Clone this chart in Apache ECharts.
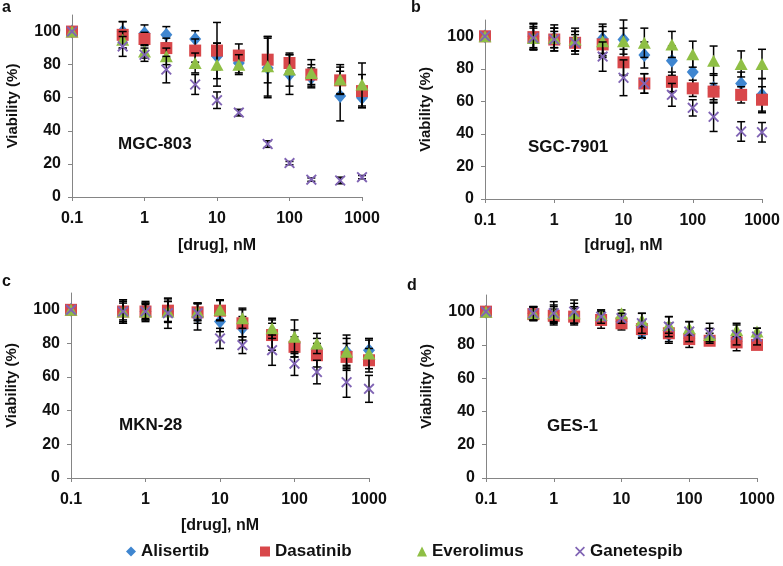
<!DOCTYPE html>
<html>
<head>
<meta charset="utf-8">
<script src="https://cdn.jsdelivr.net/npm/echarts@6/dist/echarts.min.js"></script>
<style>html,body{margin:0;padding:0;background:#fff}#c{width:783px;height:566px}</style>
</head>
<body>
<div id="c"></div>
<script>
// ---- data ----
const doses = [0.1, 0.5, 1, 2, 5, 10, 20, 50, 100, 200, 500, 1000];
const drugs = ['Alisertib', 'Dasatinib', 'Everolimus', 'Ganetespib'];
const cellLines = ['MGC-803', 'SGC-7901', 'MKN-28', 'GES-1'];
const panelLetters = ['a', 'b', 'c', 'd'];
const yTicks = [0, 20, 40, 60, 80, 100];
const xTickLabels = ['0.1', '1', '10', '100', '1000'];

// MGC-803
const mgcAlisertib   = [100, 100, 99, 98, 95.5, 85, 81, 78, 74, 72, 61, 60];
const mgcDasatinib   = [100, 98, 95.5, 90, 88.5, 88.5, 85.5, 83, 81, 74, 70.5, 64];
const mgcEverolimus  = [100, 95, 88, 85, 81, 80, 80, 79, 77, 75, 71, 68];
const mgcGanetespib  = [100, 91, 86, 77, 68, 58.5, 51, 32, 20.5, 10.5, 10, 12];
const mgcAlisertibErr  = [0, 6, 5, 5, 5, 8, 6, 18, 12, 6, 15, 6];
const mgcDasatinibErr  = [0, 8, 4, 6, 7, 17, 7, 14, 5, 6, 8, 10];
const mgcEverolimusErr = [0, 5, 4, 5, 6, 13, 6, 18, 10, 8, 9, 13];
const mgcGanetespibErr = [0, 6, 4, 8, 6, 5, 2, 2, 1, 1, 2, 1];

// SGC-7901
const sgcAlisertib   = [100, 100, 99, 97, 98.5, 98, 88.5, 85, 78, 68, 71, 64];
const sgcDasatinib   = [100, 99.5, 98, 96, 95, 84, 71, 72, 68, 66, 64, 61];
const sgcEverolimus  = [100, 99, 99, 98, 97, 97, 96, 95, 89, 85, 83, 83];
const sgcGanetespib  = [100, 99, 98, 96, 87.5, 74.5, 71, 64, 56, 50.5, 41.5, 41];
const sgcAlisertibErr  = [0, 8, 8, 6, 9, 12, 8, 9, 8, 9, 7, 10];
const sgcDasatinibErr  = [0, 8, 5, 5, 8, 8, 6, 6, 5, 5, 5, 8];
const sgcEverolimusErr = [0, 7, 6, 7, 9, 8, 9, 8, 8, 9, 8, 9];
const sgcGanetespibErr = [0, 6, 7, 7, 9, 11, 6, 7, 5, 9, 6, 6];

// MKN-28
const mknAlisertib   = [100, 99, 99, 99, 96, 93, 89, 87, 80, 77, 75, 76];
const mknDasatinib   = [100, 99, 99, 99.5, 98.5, 99.5, 92, 85, 78, 73, 72, 70];
const mknEverolimus  = [100, 99, 99, 99, 99, 100, 95, 89, 84, 80, 75, 74];
const mknGanetespib  = [100, 99, 99, 98, 98, 83, 79, 76, 68, 63, 57, 53];
const mknAlisertibErr  = [0, 5, 4, 6, 8, 6, 7, 5, 8, 6, 8, 6];
const mknDasatinibErr  = [0, 7, 5, 7, 5, 6, 8, 9, 6, 7, 8, 7];
const mknEverolimusErr = [0, 6, 6, 6, 5, 6, 6, 6, 10, 6, 10, 9];
const mknGanetespibErr = [0, 7, 5, 9, 6, 6, 5, 9, 7, 7, 9, 8];

// GES-1
const gesAlisertib   = [100, 99, 98, 98, 96, 94, 87, 86, 84, 84, 82, 82];
const gesDasatinib   = [100, 98.5, 97.5, 97, 95, 93, 89.5, 87, 83.5, 82.5, 81.5, 80];
const gesEverolimus  = [100, 99, 99, 99, 98, 99, 95, 92, 90, 86, 89, 88];
const gesGanetespib  = [100, 99, 99, 100, 97, 96, 93, 91, 88, 87, 86, 85];
const gesAlisertibErr  = [0, 4, 5, 5, 3, 3, 3, 4, 3, 3, 3, 3];
const gesDasatinibErr  = [0, 4, 4, 5, 5, 4, 5, 6, 5, 2, 5, 2];
const gesEverolimusErr = [0, 4, 5, 6, 3, 2, 4, 5, 4, 4, 4, 2];
const gesGanetespibErr = [0, 4, 7, 7, 4, 3, 6, 6, 6, 6, 6, 5];

const panelValues = [
  [mgcAlisertib, mgcDasatinib, mgcEverolimus, mgcGanetespib],
  [sgcAlisertib, sgcDasatinib, sgcEverolimus, sgcGanetespib],
  [mknAlisertib, mknDasatinib, mknEverolimus, mknGanetespib],
  [gesAlisertib, gesDasatinib, gesEverolimus, gesGanetespib]
];
const panelErrors = [
  [mgcAlisertibErr, mgcDasatinibErr, mgcEverolimusErr, mgcGanetespibErr],
  [sgcAlisertibErr, sgcDasatinibErr, sgcEverolimusErr, sgcGanetespibErr],
  [mknAlisertibErr, mknDasatinibErr, mknEverolimusErr, mknGanetespibErr],
  [gesAlisertibErr, gesDasatinibErr, gesEverolimusErr, gesGanetespibErr]
];

// ---- styles ----
const FONT = "'Liberation Sans', Arial, sans-serif";
const colors = ['#3f86d0', '#d8474a', '#8fbf45', '#8064b4'];
const xPath = 'path://M0,1.2L1.2,0L5,3.8L8.8,0L10,1.2L6.2,5L10,8.8L8.8,10L5,6.2L1.2,10L0,8.8L3.8,5Z';
const symbols = ['diamond', 'rect', 'triangle', xPath];
const symbolSizes = [[12, 14], 12, [13, 12], 11];

const grids = [
  { left: 72, top: 15, width: 290, height: 182 },
  { left: 485, top: 20, width: 277, height: 179 },
  { left: 71, top: 293, width: 298, height: 185 },
  { left: 486, top: 295, width: 271, height: 183 }
];
const xNameGaps = [41, 39, 40, null];
const labelPos = [[118, 136], [528, 139], [119, 417], [547, 418]];
const letterPos = [[2, 0], [411, 0], [2, 274], [407, 278]];

const axisLineStyle = { color: '#858585', width: 1 };
const tickText = { color: '#111', fontSize: 16, fontWeight: 'bold', fontFamily: FONT };

const xAxes = grids.map((g, i) => ({
  type: 'log', logBase: 10, min: 0.1, max: 1000, gridIndex: i,
  axisLine: { show: true, lineStyle: axisLineStyle },
  axisTick: { show: true, inside: false, length: 4, lineStyle: axisLineStyle },
  minorTick: { show: false },
  splitLine: { show: false },
  axisLabel: Object.assign({ margin: 14,
    formatter: v => xTickLabels[Math.round(Math.log10(v)) + 1] }, tickText),
  name: xNameGaps[i] ? '[drug], nM' : '',
  nameLocation: 'middle', nameGap: xNameGaps[i] || 0,
  nameTextStyle: { color: '#111', fontSize: 16, fontWeight: 'bold', fontFamily: FONT }
}));
const yAxes = grids.map((g, i) => ({
  type: 'value', min: 0, max: 110, gridIndex: i,
  axisLine: { show: true, lineStyle: axisLineStyle },
  axisTick: { show: true, length: 4, lineStyle: axisLineStyle, customValues: yTicks },
  splitLine: { show: false },
  axisLabel: Object.assign({ margin: 11, customValues: yTicks }, tickText),
  name: 'Viability (%)', nameLocation: 'middle', nameGap: 52, nameRotate: 90,
  nameTextStyle: { color: '#111', fontSize: 15, fontWeight: 'bold', fontFamily: FONT }
}));

function errRender(params, api) {
  const x = api.value(0), y = api.value(1), e = api.value(2);
  if (!e) return null;
  const top = api.coord([x, y + e]);
  const bot = api.coord([x, y - e]);
  const cw = 4;
  const st = { stroke: '#000', lineWidth: 1.5 };
  return {
    type: 'group',
    children: [
      { type: 'line', shape: { x1: top[0], y1: top[1], x2: bot[0], y2: bot[1] }, style: st },
      { type: 'line', shape: { x1: top[0] - cw, y1: top[1], x2: top[0] + cw, y2: top[1] }, style: st },
      { type: 'line', shape: { x1: bot[0] - cw, y1: bot[1], x2: bot[0] + cw, y2: bot[1] }, style: st }
    ]
  };
}

const series = [];
for (let p = 0; p < 4; p++) {
  for (let d = 0; d < 4; d++) {
    const vals = panelValues[p][d];
    const errs = panelErrors[p][d];
    series.push({
      type: 'custom', name: drugs[d] + ' error', xAxisIndex: p, yAxisIndex: p,
      renderItem: errRender, silent: true, z: 2 + d * 2,
      data: doses.map((x, k) => [x, vals[k], errs[k]]),
      clip: false
    });
    series.push({
      type: 'scatter', name: drugs[d], xAxisIndex: p, yAxisIndex: p,
      symbol: symbols[d], symbolSize: symbolSizes[d], z: 3 + d * 2,
      itemStyle: { color: colors[d], opacity: 1 },
      data: doses.map((x, k) => [x, vals[k]])
    });
  }
}

const legendLefts = [126, 260, 417, 575];
const legends = drugs.map((name, d) => ({
  data: [name], left: legendLefts[d], top: 543, padding: 0,
  itemWidth: 10, itemHeight: 10, itemGap: 5,
  textStyle: { color: '#111', fontSize: 17, fontWeight: 'bold', fontFamily: FONT }
}));

const graphics = [];
for (let p = 0; p < 4; p++) {
  graphics.push({ type: 'text', left: labelPos[p][0], top: labelPos[p][1],
    style: { text: cellLines[p], fill: '#111', font: 'bold 17px ' + FONT } });
  graphics.push({ type: 'text', left: letterPos[p][0], top: letterPos[p][1],
    style: { text: panelLetters[p], fill: '#111', font: 'bold 16px ' + FONT } });
}

const chart = echarts.init(document.getElementById('c'), null, { renderer: 'canvas' });
chart.setOption({
  animation: false,
  backgroundColor: '#fff',
  grid: grids,
  xAxis: xAxes,
  yAxis: yAxes,
  legend: legends,
  graphic: graphics,
  series: series
});
</script>
</body>
</html>
